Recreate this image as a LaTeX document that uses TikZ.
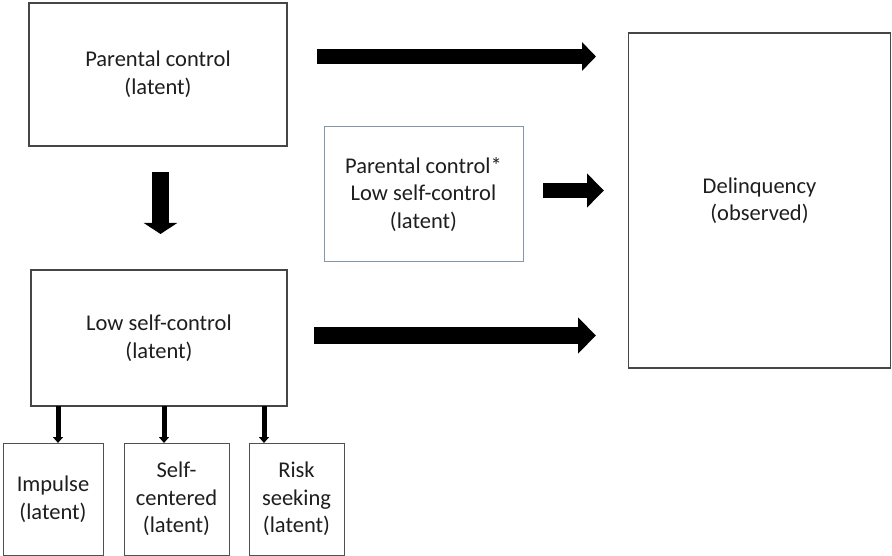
\documentclass[tikz,border=0pt]{standalone}
\usepackage{fontspec}
\setmainfont{Carlito}
\usetikzlibrary{arrows.meta}
\definecolor{txt}{RGB}{30,30,30}
\definecolor{boxline}{RGB}{70,70,70}
\definecolor{smallline}{RGB}{80,80,80}
\definecolor{blueline}{RGB}{132,150,170}
\begin{document}
\begin{tikzpicture}[x=1pt,y=-1pt,
  every node/.style={font=\fontsize{22.5}{27.5}\selectfont, text=txt, align=center, inner sep=0pt},
  bigbox/.style={draw=boxline, line width=1.1pt, rectangle},
  smallbox/.style={draw=smallline, line width=1pt, rectangle, minimum height=112pt},
  blockarrow/.style={draw=none},
]
\useasboundingbox (0,0) rectangle (892,556);

% boxes
\node[bigbox, minimum width=258pt, minimum height=143pt] (pc) at (158,74.5) {Parental control\\(latent)};
\node[draw=blueline, line width=1pt, rectangle, minimum width=199pt, minimum height=135pt] (inter) at (423.5,194.5) {Parental control*\\Low self-control\\(latent)};
\node[bigbox, minimum width=262pt, minimum height=335pt] (del) at (759.5,200.5) {Delinquency\\(observed)};
\node[bigbox, minimum width=256pt, minimum height=136pt] (lsc) at (159,338) {Low self-control\\(latent)};
\node[smallbox, minimum width=100pt] (imp) at (53,499) {Impulse\\(latent)};
\node[smallbox, minimum width=105pt] (sc) at (176.5,499) {Self-\\centered\\(latent)};
\node[smallbox, minimum width=95pt] (risk) at (296.5,499) {Risk\\seeking\\(latent)};

% arrow end points
\coordinate (a1s) at (317,56.5);
\coordinate (a1e) at (596,56.5);
\coordinate (a2s) at (543,190.5);
\coordinate (a2e) at (604,190.5);
\coordinate (a3s) at (314,335.5);
\coordinate (a3e) at (596,335.5);
\coordinate (a4s) at (160.5,172);
\coordinate (a4e) at (160.5,234);

% block arrows
\draw[line width=15pt, -{Triangle[width=28pt,length=14pt]}] (a1s) -- (a1e);
\draw[line width=15pt, -{Triangle[width=33pt,length=17pt]}] (a2s) -- (a2e);
\draw[line width=17pt, -{Triangle[width=35pt,length=18pt]}] (a3s) -- (a3e);
\draw[line width=17pt, -{Triangle[width=33pt,length=11pt]}] (a4s) -- (a4e);

% small arrows from low self-control to its indicators
\draw[line width=5pt, -{Triangle[width=10pt,length=6pt]}] (58,406) -- (58,443);
\draw[line width=5pt, -{Triangle[width=10pt,length=6pt]}] (164,406) -- (164,443);
\draw[line width=5pt, -{Triangle[width=10pt,length=6pt]}] (264,406) -- (264,443);
\end{tikzpicture}
\end{document}
